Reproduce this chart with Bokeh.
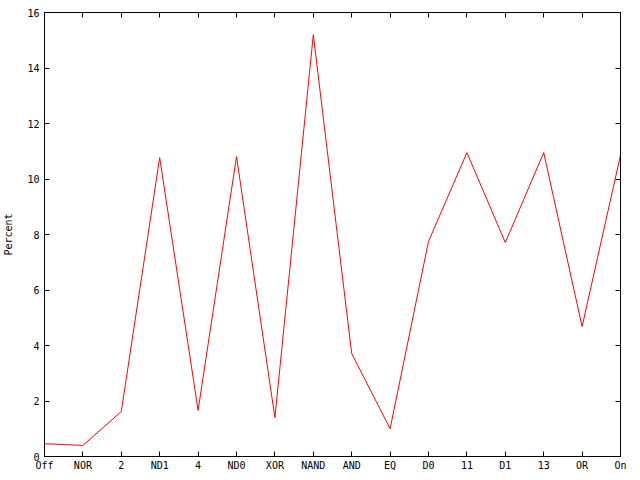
from bokeh.plotting import figure
from bokeh.models import FixedTicker, LinearAxis, Range1d
from bokeh.embed import file_html
from bokeh.resources import INLINE

categories = ["Off", "NOR", "2", "ND1", "4", "ND0", "XOR", "NAND",
              "AND", "EQ", "D0", "11", "D1", "13", "OR", "On"]
percent = [0.46, 0.40, 1.62, 10.77, 1.66, 10.81, 1.40, 15.2,
           3.71, 1.00, 7.75, 10.95, 7.71, 10.95, 4.68, 10.86]
y_ticks = [0, 2, 4, 6, 8, 10, 12, 14, 16]

xs = list(range(len(categories)))

FONT = "DejaVu Sans Mono"

p = figure(frame_width=576, frame_height=444, output_backend="svg",
           toolbar_location=None, x_range=Range1d(0, len(categories) - 1),
           y_range=Range1d(0, 16), min_border_left=0, min_border_right=12,
           min_border_top=12, min_border_bottom=0,
           background_fill_color="white", border_fill_color="white")
p.xgrid.visible = False
p.ygrid.visible = False
p.outline_line_color = "black"
p.outline_line_width = 1

p.line(xs, percent, line_color="#ff0000", line_width=1)

# bottom axis
xa = p.xaxis[0]
xa.ticker = FixedTicker(ticks=xs)
xa.major_label_overrides = {i: c for i, c in enumerate(categories)}
ya = p.yaxis[0]
ya.ticker = FixedTicker(ticks=y_ticks)
ya.axis_label = "Percent"

for ax in (xa, ya):
    ax.major_tick_in = 5
    ax.major_tick_out = 0
    ax.minor_tick_line_color = None
    ax.axis_line_color = "black"
    ax.major_tick_line_color = "black"
    ax.major_label_text_font = FONT
    ax.major_label_text_font_size = "10px"
    ax.major_label_text_color = "black"
    ax.axis_label_text_font = FONT
    ax.axis_label_text_font_size = "10px"
    ax.axis_label_text_font_style = "normal"
    ax.axis_label_text_color = "black"

xa.major_label_standoff = 3
ya.major_label_standoff = 5
ya.axis_label_standoff = 10

# mirrored ticks on top and right (no labels)
top = LinearAxis(ticker=FixedTicker(ticks=xs), major_label_text_color=None,
                 major_label_overrides={i: "" for i in xs},
                 major_tick_in=5, major_tick_out=0, minor_tick_line_color=None,
                 major_label_standoff=0)
right = LinearAxis(ticker=FixedTicker(ticks=y_ticks), major_label_text_color=None,
                   major_label_overrides={t: "" for t in y_ticks},
                   major_tick_in=5, major_tick_out=0, minor_tick_line_color=None,
                   major_label_standoff=0)
p.add_layout(top, "above")
p.add_layout(right, "right")

open("out.html", "w").write(file_html(p, INLINE))
